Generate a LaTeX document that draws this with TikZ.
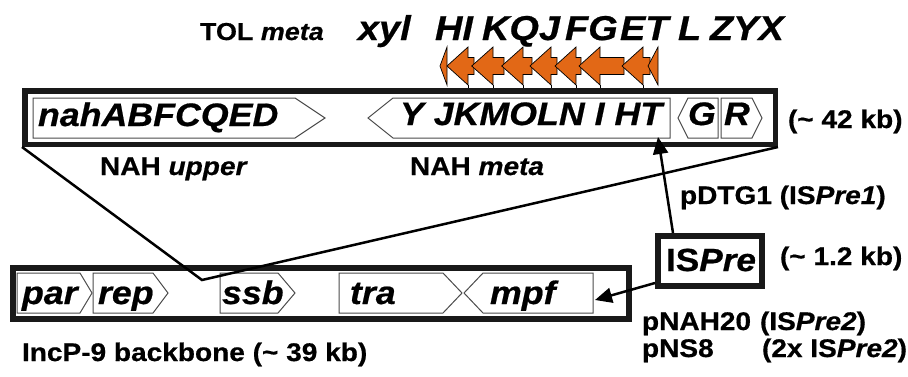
\documentclass[tikz,border=0pt]{standalone}
\usepackage{fontspec}
\setmainfont{Liberation Sans}[FakeStretch=1.1,
  BoldFeatures={FakeBold=0.6}, BoldItalicFeatures={FakeBold=0.6}]
\usetikzlibrary{arrows.meta,calc}
\definecolor{orng}{RGB}{226,104,22}
\newcommand\myfs[1]{\fontsize{#1}{#1}\selectfont}
% orange ORF arrow: tip x, head back x, shaft end x
\newcommand\orfarrow[3]{%
  \filldraw[orf] (#1,66) -- (#2,47) -- (#2,57.5) -- (#3,57.5) -- (#3,74.5) -- (#2,74.5) -- (#2,85) -- cycle;
  \draw[line width=0.6pt] (#2,85) -- (#2,88);}
\begin{document}
\begin{tikzpicture}[x=1pt,y=-1pt,
  txt/.style={inner sep=0pt, outer sep=0pt, anchor=base west, font=\bfseries\myfs{25.5}},
  gtxt/.style={inner sep=0pt, outer sep=0pt, anchor=base west, font=\bfseries\itshape\myfs{32.5}},
  ttxt/.style={inner sep=0pt, outer sep=0pt, anchor=base west, font=\bfseries\itshape\myfs{34.5}},
  genebox/.style={draw=black!70, line width=1pt, fill=white, line join=miter},
  frame/.style={draw=black!90, line width=5.5pt, inner sep=0pt},
  orf/.style={draw=black, line width=0.7pt, fill=orng, line join=miter},
  conn/.style={line width=2.5pt, draw=black},
  ptr/.style={conn, -{Triangle[length=17pt,width=15pt]}}]
\useasboundingbox (0,0) rectangle (908,376);
\fill[white] (0,0) rectangle (908,376);

% frames
\node[frame, minimum width=750.5pt, minimum height=53.5pt] (topframe) at (400,117.5) {};
\node[frame, line width=6pt, minimum width=616pt, minimum height=51pt] (lowframe) at (321,293.5) {};
\node[frame, line width=6pt, minimum width=104pt, minimum height=50pt] (ispre) at (710,261) {};

% upper genes
\draw[genebox] (33,98) -- (295,98) -- (325,118) -- (295,138) -- (33,138) -- cycle;
\draw[genebox] (368,118) -- (393,98) -- (670,98) -- (670,138) -- (393,138) -- cycle;
\draw[genebox] (678,118) -- (688,98) -- (718,98) -- (718,138) -- (688,138) -- cycle;
\draw[genebox] (721,98) -- (752,98) -- (762,118) -- (752,138) -- (721,138) -- cycle;

% lower genes
\draw[genebox] (17,273) -- (80,273) -- (92,293) -- (80,313) -- (17,313) -- cycle;
\draw[genebox] (93,273) -- (153,273) -- (168,293) -- (153,313) -- (93,313) -- cycle;
\draw[genebox] (220,273) -- (278,273) -- (295,293) -- (278,313) -- (220,313) -- cycle;
\draw[genebox] (339,273) -- (443,273) -- (462,293) -- (443,313) -- (339,313) -- cycle;
\draw[genebox] (464,293) -- (483,273) -- (593,273) -- (593,313) -- (483,313) -- cycle;

% funnel lines
\coordinate (apex) at (202,280);
\draw[conn, line join=miter] (topframe.south west) -- (apex) -- (topframe.south east);

% orange TOL meta ORFs
\filldraw[orf] (440,66) -- (447,47) -- (447,85) -- cycle;
\orfarrow{447}{468}{474}
\orfarrow{471.7}{493}{504}
\orfarrow{501.7}{523}{532}
\orfarrow{530}{551}{557}
\orfarrow{555}{576}{581}
\orfarrow{579}{600}{624}
\orfarrow{622}{643}{650}
\filldraw[orf] (648,66) -- (658,47) -- (658,85) -- cycle;

% top labels
\node[txt, font=\bfseries\myfs{24.5}] (tol) at (200,40) {TOL \textit{meta}};
\node[ttxt] (xyl) at (358,40) {xyl};
\node[ttxt] (hi) at (435,40) {HI};
\node[ttxt] (kqj) at (482,40) {KQJ};
\node[ttxt] (fg) at (565,40) {FG};
\node[ttxt] (et) at (620,40) {ET};
\node[ttxt] (l) at (678,40) {L};
\node[ttxt] (zyx) at (710,40) {ZYX};

% gene labels
\node[gtxt] (nah) at (38,126) {nahABFCQED};
\node[gtxt] (yjk) at (400,125) {Y JKMOLN I HT};
\node[gtxt] (g) at (688,125) {G};
\node[gtxt] (r) at (724,125) {R};
\node[gtxt] (par) at (22,304) {par};
\node[gtxt] (rep) at (98,304) {rep};
\node[gtxt] (ssb) at (222,304) {ssb};
\node[gtxt] (tra) at (350,304) {tra};
\node[gtxt] (mpf) at (490,304) {mpf};

% other labels
\node[txt] (kb42) at (788,128) {(\char"7E{} 42 kb)};
\node[txt] (upper) at (100,175) {NAH \textit{upper}};
\node[txt] (meta) at (410,175) {NAH \textit{meta}};
\node[txt] (pdtg) at (680,204) {pDTG1 (IS\textit{Pre1})};
\node[txt, font=\bfseries\myfs{32}] (isprelabel) at (666,271) {IS\textit{Pre}};
\node[txt] (kb12) at (780,265) {(\char"7E{} 1.2 kb)};
\node[txt] (pnah) at (642,330) {pNAH20};
\node[txt] (pnah2) at (760,330) {(IS\textit{Pre2})};
\node[txt] (pns) at (642,357) {pNS8};
\node[txt] (pns2) at (762,357) {(2x IS\textit{Pre2})};
\node[txt] (incp) at (22,361) {IncP-9 backbone (\char"7E{} 39 kb)};

% IS arrows
\coordinate (htbot) at (658,137);
\coordinate (mpfend) at (595,300);
\draw[ptr] ($(ispre.north west)+(18,0)$) -- (htbot);
\draw[ptr] ($(ispre.south west)+(0,-6)$) -- (mpfend);
\end{tikzpicture}
\end{document}
